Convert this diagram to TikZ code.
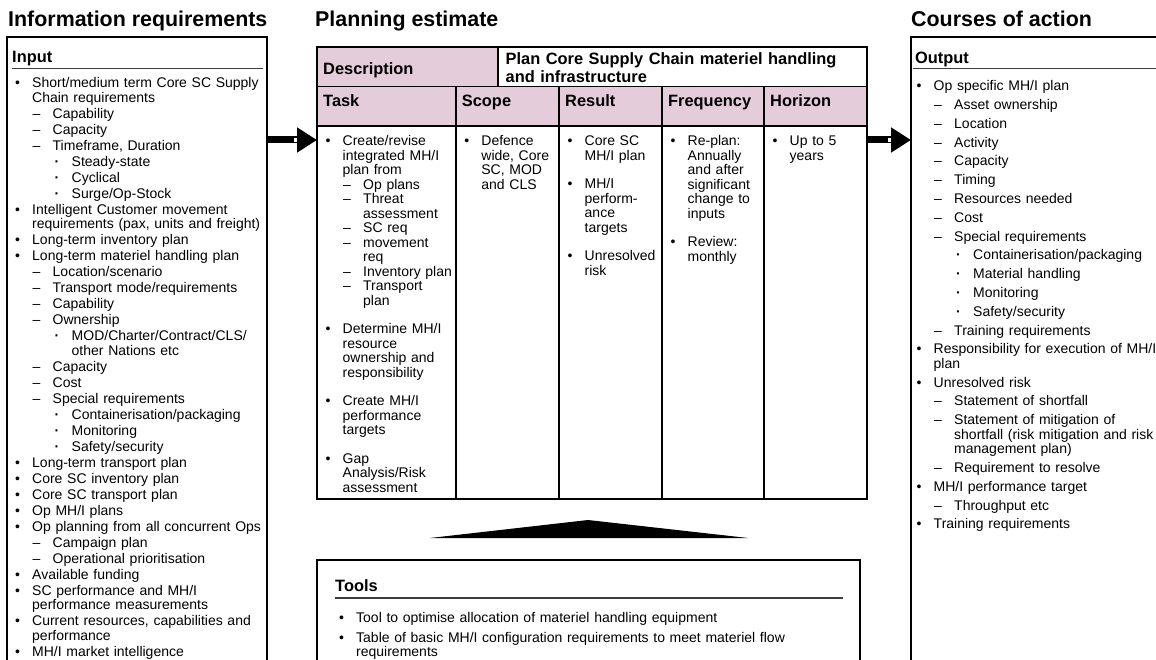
\documentclass[tikz,border=0pt]{standalone}
\usepackage{fontspec}
\setmainfont{Liberation Sans}
\usepackage{tikz}
\usetikzlibrary{arrows.meta,positioning,calc}
\definecolor{planPink}{RGB}{229,204,218}
\definecolor{ruleGrey}{RGB}{60,60,60}
% list levels: bullet, dash, small dot
\newcommand{\bulA}[1]{\noindent\hangindent=17pt\makebox[17pt][l]{\textbullet}#1\par}
\newcommand{\bulB}[1]{\noindent\hangindent=37.5pt\hspace*{17.5pt}\makebox[20pt][l]{\textendash}#1\par}
\newcommand{\bulC}[1]{\noindent\hangindent=56.5pt\hspace*{39.5pt}\makebox[17pt][l]{\textbf{\textperiodcentered}}#1\par}
\newcommand{\tgap}{\vspace{14pt}}

\begin{document}
\begin{tikzpicture}[x=1pt,y=-1pt,
  panel/.style={draw,line width=2pt,inner sep=0pt,outer sep=0pt,anchor=north west},
  cell/.style={draw,line width=1.8pt,fill=#1,inner sep=0pt,outer sep=0pt,anchor=north west},
  heading/.style={font=\fontsize{21.4}{24}\selectfont\bfseries,inner sep=0pt,anchor=base west},
  boxtitle/.style={font=\fontsize{16.4}{18.4}\selectfont\bfseries,inner sep=0pt,anchor=base west},
  itemlist/.style={font=\fontsize{14}{14.5}\selectfont,inner sep=0pt,anchor=base west,
                   text width=#1,align=left},
  listskip/.style={execute at begin node={\setlength{\parskip}{#1}}},
  toprule/.style={draw=ruleGrey,line width=1.4pt},
  fatarrow/.style={line width=7pt,-{Triangle[length=20pt,width=24pt]}}
]
\useasboundingbox (0,0) rectangle (1156,660);
\clip (0,0) rectangle (1156,660);
% Headings
\node[heading] (infohd) at (8,26.7) {Information requirements};
\node[heading] (planhd) at (315,26.7) {Planning estimate};
\node[heading] (coahd) at (911,26.7) {Courses of action};
% Input
\node[panel,minimum width=260,minimum height=700] (inbox) at (7,37) {};
\node[boxtitle] (intitle) at (12,62.7) {Input};
\draw[toprule] (11.5,68.3) -- (263,68.3);
\node[itemlist=250,listskip=1.5pt] (inlist) at (15,87.7) {
  \bulA{Short/medium term Core SC Supply\newline Chain requirements}
  \bulB{Capability}
  \bulB{Capacity}
  \bulB{Timeframe, Duration}
  \bulC{Steady-state}
  \bulC{Cyclical}
  \bulC{Surge/Op-Stock}
  \bulA{Intelligent Customer movement\newline requirements (pax, units and freight)}
  \bulA{Long-term inventory plan}
  \bulA{Long-term materiel handling plan}
  \bulB{Location/scenario}
  \bulB{Transport mode/requirements}
  \bulB{Capability}
  \bulB{Ownership}
  \bulC{MOD/Charter/Contract/CLS/\newline other Nations etc}
  \bulB{Capacity}
  \bulB{Cost}
  \bulB{Special requirements}
  \bulC{Containerisation/packaging}
  \bulC{Monitoring}
  \bulC{Safety/security}
  \bulA{Long-term transport plan}
  \bulA{Core SC inventory plan}
  \bulA{Core SC transport plan}
  \bulA{Op MH/I plans}
  \bulA{Op planning from all concurrent Ops}
  \bulB{Campaign plan}
  \bulB{Operational prioritisation}
  \bulA{Available funding}
  \bulA{SC performance and MH/I\newline performance measurements}
  \bulA{Current resources, capabilities and\newline performance}
  \bulA{MH/I market intelligence}
};
% Output
\node[panel,minimum width=300,minimum height=700] (outbox) at (911,37) {};
\node[boxtitle] (outtitle) at (915,63.3) {Output};
\draw[toprule] (913,68.3) -- (1160,68.3);
\node[itemlist=300,listskip=4.3pt] (outlist) at (916.5,90.7) {
  \bulA{Op specific MH/I plan}
  \bulB{Asset ownership}
  \bulB{Location}
  \bulB{Activity}
  \bulB{Capacity}
  \bulB{Timing}
  \bulB{Resources needed}
  \bulB{Cost}
  \bulB{Special requirements}
  \bulC{Containerisation/packaging}
  \bulC{Material handling}
  \bulC{Monitoring}
  \bulC{Safety/security}
  \bulB{Training requirements}
  \bulA{Responsibility for execution of MH/I\newline plan}
  \bulA{Unresolved risk}
  \bulB{Statement of shortfall}
  \bulB{Statement of mitigation of\newline shortfall (risk mitigation and risk\newline management plan)}
  \bulB{Requirement to resolve}
  \bulA{MH/I performance target}
  \bulB{Throughput etc}
  \bulA{Training requirements}
};
% Description row
\node[cell=planPink,minimum width=181,minimum height=39.5] (desc) at (317,47) {};
\node[cell=white,minimum width=369,minimum height=39.5] (descval) at (desc.north east) {};
% Header row
\node[cell=planPink,minimum width=138.7,minimum height=39.5] (task) at (desc.south west) {};
\node[cell=planPink,minimum width=103.3,minimum height=39.5] (scope) at (task.north east) {};
\node[cell=planPink,minimum width=103,minimum height=39.5] (result) at (scope.north east) {};
\node[cell=planPink,minimum width=102,minimum height=39.5] (freq) at (result.north east) {};
\node[cell=planPink,minimum width=103,minimum height=39.5] (horizon) at (freq.north east) {};
% Body row
\node[cell=white,minimum width=138.7,minimum height=373] (taskbody) at (task.south west) {};
\node[cell=white,minimum width=103.3,minimum height=373] (scopebody) at (scope.south west) {};
\node[cell=white,minimum width=103,minimum height=373] (resultbody) at (result.south west) {};
\node[cell=white,minimum width=102,minimum height=373] (freqbody) at (freq.south west) {};
\node[cell=white,minimum width=103,minimum height=373] (horizonbody) at (horizon.south west) {};
\node[panel,minimum width=550,minimum height=452] (plan) at (317,47) {};
% Table texts
\node[boxtitle] (desclbl) at ([shift={(6,27.3)}]desc.north west) {Description};
\node[boxtitle,text width=360,align=left] (descvaltxt) at ([shift={(7.5,17.3)}]descval.north west)
  {Plan Core Supply Chain materiel handling\\and infrastructure};
\node[boxtitle] (tasklbl) at ([shift={(6,20.2)}]task.north west) {Task};
\node[boxtitle] (scopelbl) at ([shift={(6,20.2)}]scope.north west) {Scope};
\node[boxtitle] (resultlbl) at ([shift={(6,20.2)}]result.north west) {Result};
\node[boxtitle] (freqlbl) at ([shift={(6,20.2)}]freq.north west) {Frequency};
\node[boxtitle] (horizonlbl) at ([shift={(6,20.2)}]horizon.north west) {Horizon};
\node[itemlist=200] (tasklist) at ([shift={(8.5,20)}]taskbody.north west) {
  \bulA{Create/revise\newline integrated MH/I\newline plan from}
  \bulB{Op plans}
  \bulB{Threat\newline assessment}
  \bulB{SC req}
  \bulB{movement\newline req}
  \bulB{Inventory plan}
  \bulB{Transport\newline plan}
  \tgap
  \bulA{Determine MH/I\newline resource\newline ownership and\newline responsibility}
  \tgap
  \bulA{Create MH/I\newline performance\newline targets}
  \tgap
  \bulA{Gap\newline Analysis/Risk\newline assessment}
};
\node[itemlist=200] (scopelist) at ([shift={(8.5,20)}]scopebody.north west) {
  \bulA{Defence\newline wide, Core\newline SC, MOD\newline and CLS}
};
\node[itemlist=200] (resultlist) at ([shift={(8.5,20)}]resultbody.north west) {
  \bulA{Core SC\newline MH/I plan}
  \tgap
  \bulA{MH/I\newline perform-\newline ance\newline targets}
  \tgap
  \bulA{Unresolved\newline risk}
};
\node[itemlist=200] (freqlist) at ([shift={(8.5,20)}]freqbody.north west) {
  \bulA{Re-plan:\newline Annually\newline and after\newline significant\newline change to\newline inputs}
  \tgap
  \bulA{Review:\newline monthly}
};
\node[itemlist=200] (horizonlist) at ([shift={(8.5,20)}]horizonbody.north west) {
  \bulA{Up to 5\newline years}
};
% Arrows
\coordinate (arrowrow) at (0,140);
\draw[fatarrow] (inbox.east |- arrowrow) -- (plan.west |- arrowrow);
\draw[fatarrow] (plan.east |- arrowrow) -- (outbox.west |- arrowrow);
\fill[white] ($(plan.west |- arrowrow)+(-23,-2)$) rectangle +(3,4);
\fill[white] ($(outbox.west |- arrowrow)+(-23,-2)$) rectangle +(3,4);
% Tools
\fill (430,538) -- (588,520) -- (748,538) -- cycle;
\node[panel,minimum width=543,minimum height=200] (tools) at (317,560) {};
\node[boxtitle] (toolstitle) at (335,591) {Tools};
\draw[toprule] (335,598) -- (843,598);
\node[itemlist=520,listskip=5.5pt] (toollist) at (339,622) {
  \bulA{Tool to optimise allocation of materiel handling equipment}
  \bulA{Table of basic MH/I configuration requirements to meet materiel flow\newline requirements}
};
\end{tikzpicture}
\end{document}
